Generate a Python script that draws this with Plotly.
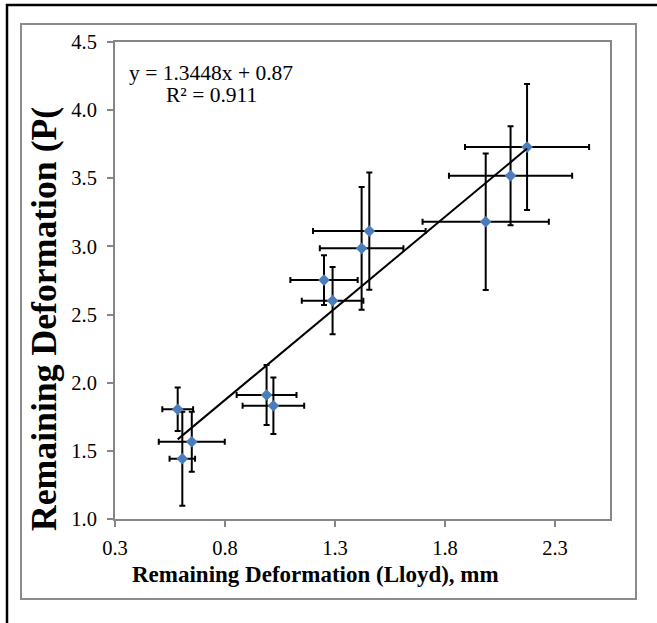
import numpy as np
import plotly.graph_objects as go

# ---- data ----
x_lloyd = [0.585, 0.606, 0.649, 0.989, 1.020, 1.250, 1.289, 1.421, 1.456, 1.985, 2.098, 2.173]
y_def   = [1.805, 1.442, 1.567, 1.910, 1.831, 2.753, 2.602, 2.986, 3.113, 3.181, 3.519, 3.729]
x_err   = [0.070, 0.058, 0.150, 0.136, 0.140, 0.153, 0.140, 0.190, 0.256, 0.287, 0.280, 0.282]
y_err   = [0.160, 0.345, 0.220, 0.220, 0.208, 0.183, 0.247, 0.450, 0.430, 0.500, 0.363, 0.462]
x_ticks = [0.3, 0.8, 1.3, 1.8, 2.3]
y_ticks = [1.0, 1.5, 2.0, 2.5, 3.0, 3.5, 4.0, 4.5]
eq_text = "y = 1.3448x + 0.87"
r2_text = "R² = 0.911"
x_title = "Remaining Deformation (Lloyd), mm"
y_title = "Remaining Deformation (P("

W, H = 657, 623
L, R, T, B = 115, 610, 42, 519
def px(x): return (x - L) / (R - L)
def py(y): return (B - y) / (B - T)

slope, intercept = np.polyfit(x_lloyd, y_def, 1)
xl = np.array([min(x_lloyd), max(x_lloyd)])

serif = "Liberation Serif"
fig = go.Figure()
fig.add_trace(go.Scatter(
    x=x_lloyd, y=y_def, mode="markers",
    marker=dict(symbol="diamond", size=9, color="#4A7EBB"),
    error_x=dict(type="data", array=x_err, color="black", thickness=2, width=3),
    error_y=dict(type="data", array=y_err, color="black", thickness=2, width=3),
    showlegend=False, hoverinfo="skip"))
fig.add_trace(go.Scatter(
    x=xl, y=slope * xl + intercept, mode="lines",
    line=dict(color="black", width=2), showlegend=False, hoverinfo="skip"))

axis_common = dict(showgrid=False, zeroline=False, showline=True, mirror=True,
                   linecolor="#868686", linewidth=2, ticks="outside", ticklen=6,
                   tickcolor="#868686", tickwidth=2, tickformat=".1f",
                   tickfont=dict(family=serif, size=20.5, color="black"))
fig.update_xaxes(range=[0.3, 2.55], tickvals=x_ticks, ticklabelstandoff=3, **axis_common)
fig.update_yaxes(range=[1.0, 4.5], tickvals=y_ticks, ticklabelstandoff=6, **axis_common)

shapes = [
    dict(type="rect", xref="paper", yref="paper", x0=px(21), x1=px(636), y0=py(599), y1=py(24),
         line=dict(color="#8c8c8c", width=2), layer="below"),
    dict(type="line", xref="paper", yref="paper", x0=px(7), x1=px(7), y0=py(623), y1=py(4),
         line=dict(color="black", width=2.5)),
    dict(type="line", xref="paper", yref="paper", x0=px(6), x1=px(657), y0=py(5), y1=py(5),
         line=dict(color="black", width=2.5)),
]
annotations = [
    dict(text=eq_text, xref="paper", yref="paper", x=px(211), y=py(73), showarrow=False,
         xanchor="center", yanchor="middle", font=dict(family=serif, size=21.5, color="black")),
    dict(text=r2_text, xref="paper", yref="paper", x=px(211), y=py(95), showarrow=False,
         xanchor="center", yanchor="middle", font=dict(family=serif, size=21.5, color="black")),
    dict(text="<b>" + x_title + "</b>", xref="paper", yref="paper", x=px(315), y=py(574),
         showarrow=False, xanchor="center", yanchor="middle",
         font=dict(family=serif, size=23, color="black")),
    dict(text="<b>" + y_title + "</b>", xref="paper", yref="paper", x=px(44), y=py(319),
         showarrow=False, xanchor="center", yanchor="middle", textangle=-90,
         font=dict(family=serif, size=35.7, color="black")),
]
fig.update_layout(width=W, height=H, margin=dict(l=L, r=W - R, t=T, b=H - B),
                  paper_bgcolor="white", plot_bgcolor="white",
                  shapes=shapes, annotations=annotations)
css = ("html,body{margin:0;padding:0;overflow:hidden;}"
       "::-webkit-scrollbar{display:none;width:0;height:0;}")
fig.write_html("out.html", config={"displayModeBar": False},
               post_script="var s=document.createElement('style');s.textContent='" + css + "';"
                           "document.head.appendChild(s);")
